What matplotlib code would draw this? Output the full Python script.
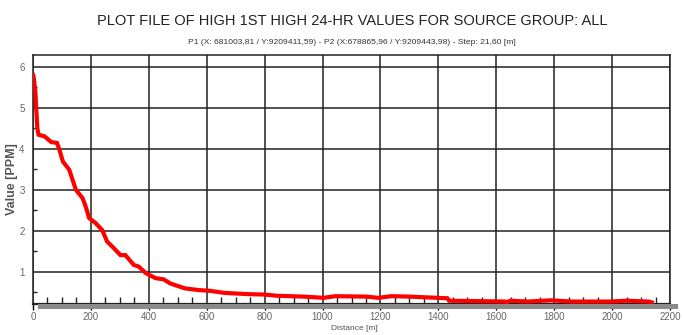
import matplotlib
matplotlib.use("Agg")
import matplotlib.pyplot as plt
from matplotlib.patches import Rectangle
from matplotlib.ticker import MultipleLocator

distance = [0, 2, 8, 11, 15, 19, 40, 63, 83, 91, 103, 125, 148, 171, 182, 194,
            216, 239, 256, 279, 302, 319, 348, 365, 390, 423, 451, 474, 525, 571,
            611, 662, 742, 799, 844, 936, 1004, 1044, 1152, 1192, 1238, 1299, 1431,
            1437, 1631, 1636, 1648, 1710, 1790, 1859, 1995, 2051, 2126, 2137]
value = [5.80, 5.76, 5.40, 4.99, 4.50, 4.34, 4.30, 4.16, 4.14, 3.98, 3.69, 3.49,
         3.00, 2.80, 2.59, 2.31, 2.19, 2.02, 1.74, 1.58, 1.41, 1.41, 1.17, 1.13,
         0.97, 0.85, 0.82, 0.72, 0.60, 0.56, 0.54, 0.49, 0.46, 0.45, 0.42, 0.40,
         0.37, 0.41, 0.40, 0.37, 0.41, 0.40, 0.36, 0.30, 0.28, 0.26, 0.30, 0.28,
         0.31, 0.28, 0.28, 0.30, 0.28, 0.26]
x_ticks = [0, 200, 400, 600, 800, 1000, 1200, 1400, 1600, 1800, 2000, 2200]
y_ticks = [1, 2, 3, 4, 5, 6]

title = "PLOT FILE OF HIGH 1ST HIGH 24-HR VALUES FOR SOURCE GROUP: ALL"
subtitle = "P1 (X: 681003,81 / Y:9209411,59) - P2 (X:678865,96 / Y:9209443,98) - Step: 21,60 [m]"

plt.rcParams['font.family'] = ['Liberation Sans', 'DejaVu Sans']

W, H = 683, 335
fig = plt.figure(figsize=(W / 100, H / 100), dpi=100)
L, R, T, B = 33, 670, 55, 304
ax = fig.add_axes([L / W, 1 - B / H, (R - L) / W, (B - T) / H])

# drop shadow under the x axis
fig.patches.append(Rectangle((38 / W, 1 - 309 / H), (678 - 38) / W, 5 / H,
                             transform=fig.transFigure, facecolor='#8a8a8a',
                             edgecolor='none', zorder=0))

ax.plot(distance, value, color='#ff0000', lw=3.0, solid_joinstyle='miter', zorder=3)

ax.set_xlim(0, 2200)
ax.set_ylim(0.22, 6.28)
ax.set_xticks(x_ticks)
ax.set_yticks(y_ticks)
ax.xaxis.set_minor_locator(MultipleLocator(50))
ax.yaxis.set_minor_locator(MultipleLocator(0.5))
ax.grid(True, which='major', color='#222222', lw=1.1)
ax.tick_params(axis='x', which='major', direction='out', length=4, width=1,
               labelsize=7, labelcolor='#666666', pad=2)
ax.tick_params(axis='y', which='major', direction='in', length=0,
               labelsize=7, labelcolor='#666666', pad=6)
ax.tick_params(axis='x', which='minor', direction='in', length=5, width=1, color='#222222')
ax.tick_params(axis='y', which='minor', direction='in', length=3, width=1, color='#222222')
for s in ax.spines.values():
    s.set_color('#222222')
    s.set_linewidth(1.1)
ax.spines['bottom'].set_linewidth(1.6)

ax.set_ylabel("Value [PPM]", fontsize=9, fontweight='bold', color='#555555')
ax.yaxis.set_label_coords((12 - L) / (R - L), 0.5)
ax.yaxis.label.set_va('center')
ax.set_xlabel("Distance [m]", fontsize=6, color='#555555')
ax.xaxis.set_label_coords((354 - L) / (R - L), (B - 329) / (B - T))
ax.xaxis.label.set_va('center')

fig.text(352 / W, 1 - 21 / H, title, ha='center', va='center', fontsize=10.5, color='#222222')
fig.text(352 / W, 1 - 42 / H, subtitle, ha='center', va='center', fontsize=6.1, color='#333333')

fig.savefig("out.png", dpi=100)
